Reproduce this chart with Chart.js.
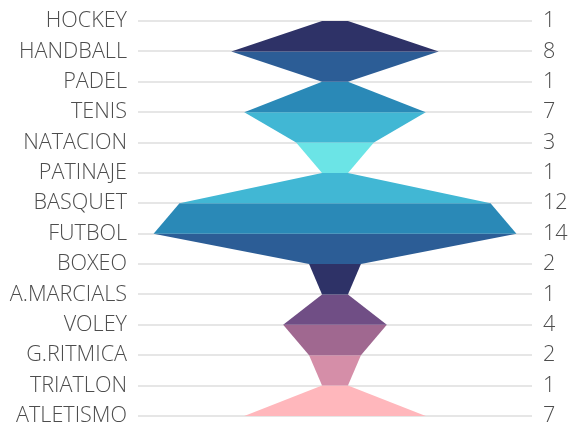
<!DOCTYPE html>
<html>
<head>
<meta charset="utf-8">
<script src="https://cdn.jsdelivr.net/npm/chart.js@4/dist/chart.umd.min.js"></script>
<style>
  html, body { margin: 0; padding: 0; background: #fff; }
  #wrap { width: 570px; height: 425px; }
</style>
</head>
<body>
<div id="wrap"><canvas id="myChart"></canvas></div>
<script>
var sports = ["HOCKEY", "HANDBALL", "PADEL", "TENIS", "NATACION", "PATINAJE", "BASQUET",
  "FUTBOL", "BOXEO", "A.MARCIALS", "VOLEY", "G.RITMICA", "TRIATLON", "ATLETISMO"];
var counts = [1, 8, 1, 7, 3, 1, 12, 14, 2, 1, 4, 2, 1, 7];
// one colour per band between two neighbouring sports
var bandColors = ["#2e3267", "#2c5d96", "#2a89b7", "#41b7d4", "#6be4e6", "#41b7d4", "#2a89b7",
  "#2c5d96", "#2e3267", "#704e85", "#a06890", "#d58ea8", "#ffb7bc"];

document.addEventListener("DOMContentLoaded", function () {
  var datasets = [];
  for (var i = 0; i < counts.length - 1; i++) {
    var a = counts[i], b = counts[i + 1];
    datasets.push({
      data: [{ x: -a, y: i }, { x: a, y: i }, { x: b, y: i + 1 }, { x: -b, y: i + 1 }],
      backgroundColor: bandColors[i],
      borderWidth: 0,
      pointRadius: 0,
      fill: "shape",
      tension: 0
    });
  }

  var tickFont = { family: "'Open Sans', sans-serif", size: 21.6, weight: "300" };

  function fitLeft(scale) {
    scale.width = 138;
    scale.paddingTop = 0;
    scale.paddingBottom = 0;
  }
  function fitRight(scale) {
    scale.width = 38;
    scale.paddingTop = 0;
    scale.paddingBottom = 0;
  }

  var ctx = document.getElementById("myChart").getContext("2d");
  var myChart = new Chart(ctx, {
    type: "line",
    data: { datasets: datasets },
    options: {
      responsive: true,
      maintainAspectRatio: false,
      animation: false,
      layout: { padding: { top: 21, bottom: 9, left: 0, right: 0 } },
      plugins: { legend: { display: false }, tooltip: { enabled: false } },
      scales: {
        x: { type: "linear", min: -15.2, max: 15.2, display: false },
        y: {
          type: "linear", position: "left", reverse: true, min: 0, max: sports.length - 1,
          afterFit: fitLeft,
          border: { display: false },
          grid: { color: "#e6e6e6", lineWidth: 2, drawTicks: false },
          ticks: {
            stepSize: 1, autoSkip: false, padding: 11, color: "#4d4d4d", font: tickFont,
            callback: function (v) { return sports[v]; }
          }
        },
        y2: {
          type: "linear", position: "right", reverse: true, min: 0, max: sports.length - 1,
          afterFit: fitRight,
          border: { display: false },
          grid: { display: false, drawTicks: false },
          ticks: {
            stepSize: 1, autoSkip: false, padding: 11, color: "#4d4d4d", font: tickFont,
            callback: function (v) { return counts[v]; }
          }
        }
      }
    }
  });
});
</script>
</body>
</html>
